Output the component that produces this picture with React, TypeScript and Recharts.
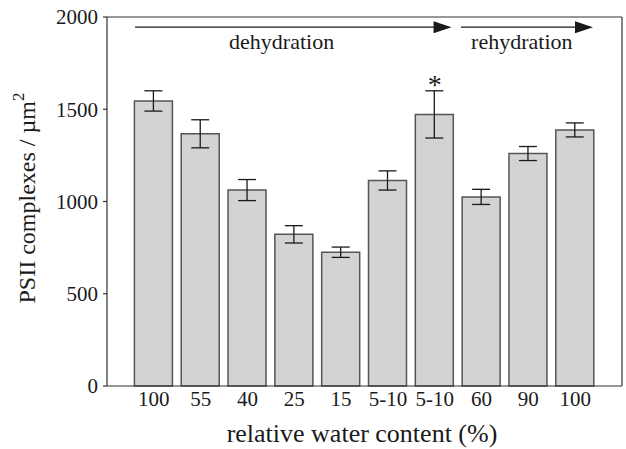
import {
  BarChart,
  Bar,
  XAxis,
  YAxis,
  ErrorBar,
  ReferenceLine,
  ReferenceDot,
} from "recharts";

const waterLabels = ["100", "55", "40", "25", "15", "5-10", "5-10", "60", "90", "100"];
const psiiValues = [1545, 1367, 1062, 822, 725, 1114, 1472, 1025, 1260, 1388];
const psiiErrors = [55, 76, 57, 47, 28, 52, 128, 41, 38, 38];
const yTicks = [0, 500, 1000, 1500, 2000];

const data = psiiValues.map((v, i) => ({
  pos: i + 1,
  value: v,
  err: psiiErrors[i],
}));

const FONT = "'Liberation Serif', 'Times New Roman', serif";
const INK = "#1a1a1a";

const Arrow = (props: any) => {
  const { x1, y1, x2, y2 } = props;
  const len = 18;
  const half = 6;
  return (
    <g>
      <line x1={x1} y1={y1} x2={x2 - len + 2} y2={y2} stroke={INK} strokeWidth={1.4} />
      <polygon
        points={`${x2},${y2} ${x2 - len},${y2 - half} ${x2 - len},${y2 + half}`}
        fill={INK}
      />
    </g>
  );
};

const makeText = (txt: string, size: number, lift = 0) => (props: any) => (
  <text
    x={props.cx}
    y={props.cy + lift}
    textAnchor="middle"
    fontFamily={FONT}
    fontSize={size}
    fill={INK}
  >
    {txt}
  </text>
);

const YLabel = () => (
  <text
    x={35}
    y={198}
    transform="rotate(-90, 35, 198)"
    textAnchor="middle"
    fontFamily={FONT}
    fontSize={24}
    fill={INK}
  >
    PSII complexes / µm
    <tspan dy={-11} fontSize={17}>
      2
    </tspan>
  </text>
);

const XLabel = () => (
  <text
    x={362}
    y={442}
    textAnchor="middle"
    fontFamily={FONT}
    fontSize={26}
    fill={INK}
  >
    relative water content (%)
  </text>
);

const App = () => {
  return (
    <div style={{ position: "absolute", left: 0, top: 0, background: "#fff" }}>
      <BarChart
        width={626}
        height={449}
        data={data}
        margin={{ top: 17, right: 0, bottom: 0, left: 0 }}
      >
        <XAxis
          dataKey="pos"
          type="number"
          domain={[0, 11]}
          ticks={[1, 2, 3, 4, 5, 6, 7, 8, 9, 10]}
          tickFormatter={(v: number) => waterLabels[v - 1]}
          height={63}
          tickLine={false}
          tickSize={0}
          tickMargin={5}
          stroke="#333"
          strokeWidth={1.2}
          tick={{ fontSize: 21, fill: INK, fontFamily: FONT }}
          interval={0}
          allowDataOverflow
          label={<XLabel />}
        />
        <YAxis
          yAxisId="left"
          domain={[0, 2000]}
          ticks={yTicks}
          width={107}
          tickSize={4}
          tickMargin={5}
          stroke="#333"
          strokeWidth={1.2}
          tick={{ fontSize: 21, fill: INK, fontFamily: FONT }}
          label={<YLabel />}
        />
        <YAxis
          yAxisId="right"
          orientation="right"
          domain={[0, 2000]}
          ticks={yTicks}
          width={4}
          tickSize={3}
          tick={false}
          stroke="#333"
          strokeWidth={1.2}
        />
        <ReferenceLine yAxisId="left" y={2000} stroke="#333" strokeWidth={1.2} />
        <Bar
          yAxisId="left"
          dataKey="value"
          barSize={38}
          fill="#d3d3d3"
          stroke="#555"
          strokeWidth={1.5}
          isAnimationActive={false}
        >
          <ErrorBar dataKey="err" width={9} stroke={INK} strokeWidth={1.3} />
        </Bar>
        <ReferenceLine
          yAxisId="left"
          segment={[
            { x: 0.6, y: 1945 },
            { x: 7.36, y: 1945 },
          ]}
          shape={Arrow}
        />
        <ReferenceLine
          yAxisId="left"
          segment={[
            { x: 7.56, y: 1945 },
            { x: 10.38, y: 1945 },
          ]}
          shape={Arrow}
        />
        <ReferenceDot yAxisId="left" x={3.73} y={1827} r={0} shape={makeText("dehydration", 22)} />
        <ReferenceDot yAxisId="left" x={8.86} y={1827} r={0} shape={makeText("rehydration", 22)} />
        <ReferenceDot yAxisId="left" x={7} y={1653} r={0} shape={makeText("*", 28, 13)} />
      </BarChart>
    </div>
  );
};

export default App;
